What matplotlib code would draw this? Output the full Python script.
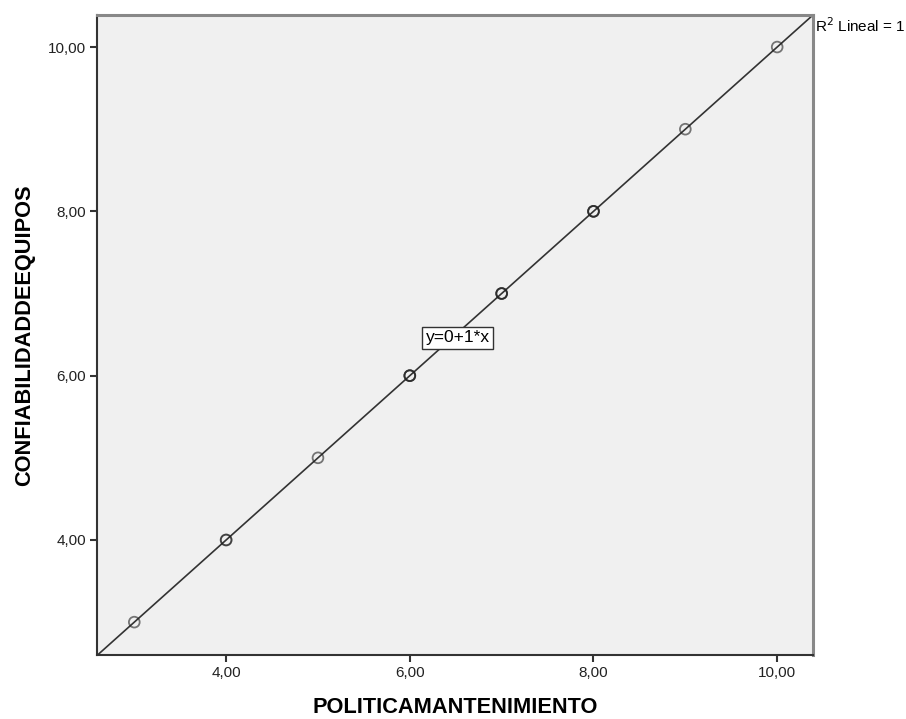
import numpy as np
import matplotlib.pyplot as plt

plt.rcParams['font.family'] = ['Liberation Sans', 'DejaVu Sans']

# cases (repeated values overlap on the same point)
politica = [3, 4, 4, 5, 6, 6, 6, 7, 7, 7, 8, 8, 8, 9, 10]
confiabilidad = [3, 4, 4, 5, 6, 6, 6, 7, 7, 7, 8, 8, 8, 9, 10]
ticks = [4, 6, 8, 10]
tick_labels = ['4,00', '6,00', '8,00', '10,00']

x = np.array(politica, dtype=float)
y = np.array(confiabilidad, dtype=float)
slope, intercept = np.polyfit(x, y, 1)
r2 = np.corrcoef(x, y)[0, 1] ** 2

fig = plt.figure(figsize=(9.06, 7.19), dpi=100)
ax = fig.add_axes([97 / 906, 1 - 655 / 719, (813 - 97) / 906, (655 - 15) / 719])
ax.set_facecolor('#f0f0f0')

xlim = (2.594, 10.39)
ylim = (2.60, 10.39)
ax.set_xlim(xlim)
ax.set_ylim(ylim)

# fit line across the whole plot
xs = np.array(xlim)
ax.plot(xs, intercept + slope * xs, color='#333333', lw=1.2, zorder=2)

ax.scatter(x, y, s=60, facecolors='none', edgecolors='#222222',
           linewidths=1.3, alpha=0.6, zorder=3)

ax.text(6.52, 6.46, 'y=%d+%d*x' % (round(intercept), round(slope)),
        fontsize=12.5, ha='center', va='center', zorder=4,
        bbox=dict(boxstyle='square,pad=0.2', fc='white', ec='#333333', lw=1))

ax.text(1.003, 0.998, 'R$^2$ Lineal = %d' % round(r2), transform=ax.transAxes,
        fontsize=11, ha='left', va='top')

ax.set_xticks(ticks)
ax.set_xticklabels(tick_labels)
ax.set_yticks(ticks)
ax.set_yticklabels(tick_labels)
ax.tick_params(direction='out', length=5, width=1.5, color='#333333',
               labelsize=11, labelcolor='#222222', pad=3)

for side in ['left', 'bottom']:
    ax.spines[side].set_color('#333333')
    ax.spines[side].set_linewidth(1.5)
for side in ['top', 'right']:
    ax.spines[side].set_color('#888888')
    ax.spines[side].set_linewidth(2.2)

ax.set_xlabel('POLITICAMANTENIMIENTO', fontsize=15.7, fontweight='bold', labelpad=12)
ax.set_ylabel('CONFIABILIDADDEEQUIPOS', fontsize=15.7, fontweight='bold', labelpad=9)

fig.savefig('out.png', dpi=100)
